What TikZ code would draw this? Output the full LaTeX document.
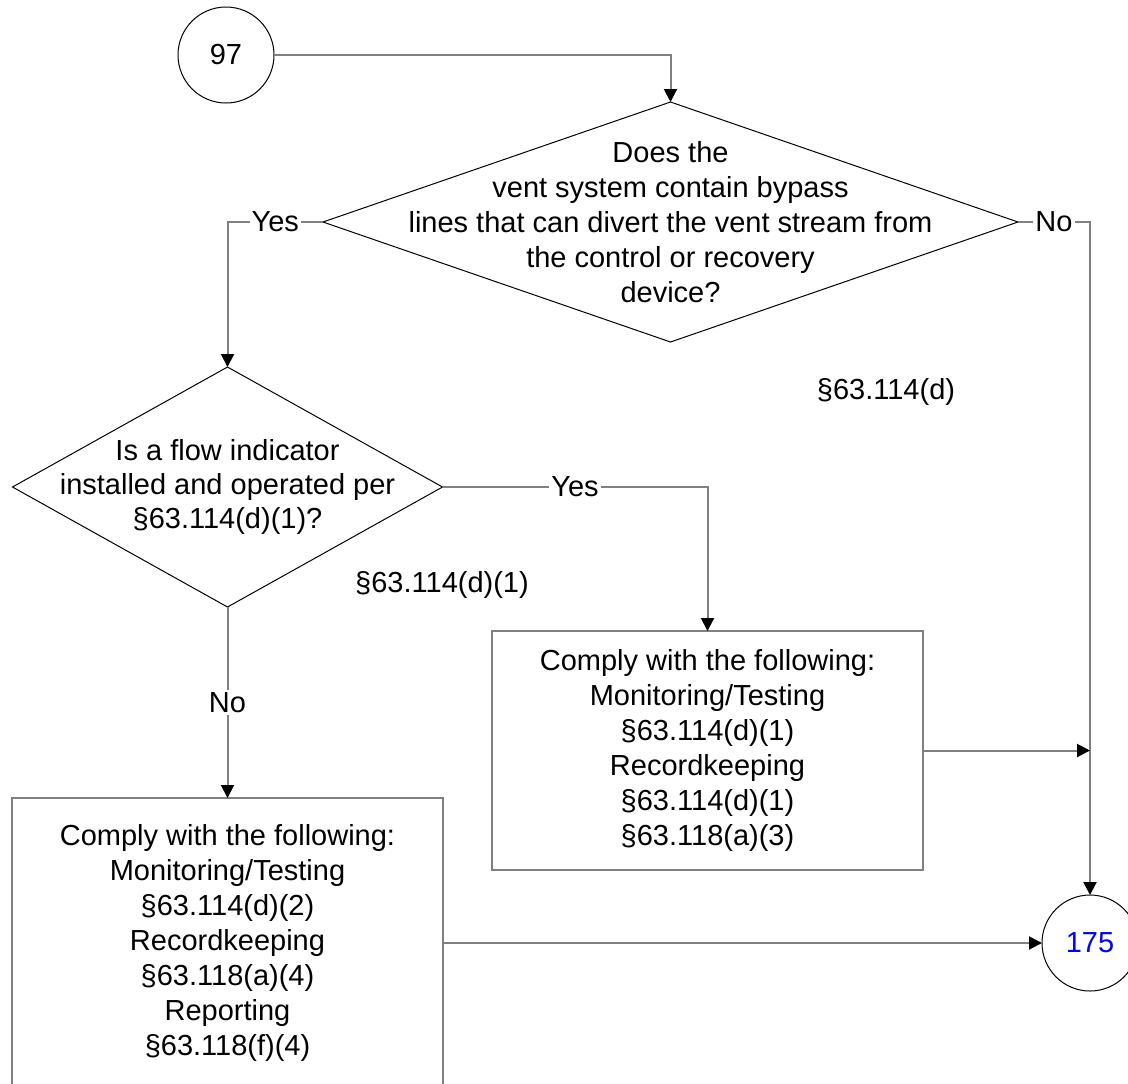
\documentclass[tikz,border=0pt]{standalone}
\usepackage{fontspec}
\setmainfont{Liberation Sans}
\usetikzlibrary{shapes.geometric,arrows.meta}
\definecolor{linegrey}{RGB}{128,128,128}
\definecolor{refblue}{RGB}{0,0,255}
\tikzset{
  conn/.style={draw=linegrey, line width=1pt},
  arr/.style={conn, -{Triangle[length=6.5pt,width=6.5pt,fill=black,color=black]}},
  decision/.style={draw=black, line width=0.5pt, shape=diamond, inner sep=0pt, outer sep=0pt},
  connector/.style={draw=black, line width=0.5pt, circle, inner sep=0pt, outer sep=0pt, minimum size=48pt,
    font=\fontsize{14.5}{17.5}\selectfont},
  actionbox/.style={draw=linegrey, line width=1pt, rectangle, inner sep=0pt, outer sep=0pt, align=center,
    font=\fontsize{14.5}{17.5}\selectfont},
  txt/.style={align=center, inner sep=0pt, font=\fontsize{14.5}{17.5}\selectfont},
  lbl/.style={fill=white, inner sep=1pt, font=\fontsize{14.5}{17.5}\selectfont},
}
\begin{document}
\begin{tikzpicture}[x=0.5pt, y=-0.5pt]
\clip (0,0) rectangle (1128,1083);
\fill[white] (0,0) rectangle (1128,1083);

% nodes
\node[connector] (c97) at (226,55) {97};
\node[decision, minimum width=347.5pt, minimum height=120pt] (d1) at (670.5,222) {};
\node[txt] (d1t) at (d1.center)
  {Does the\\vent system contain bypass\\lines that can divert the vent stream from\\the control or recovery\\device?};
\node[decision, minimum width=215pt, minimum height=120pt] (d2) at (227.5,487) {};
\node[txt, font=\fontsize{14.5}{16.8}\selectfont] (d2t) at (d2.center)
  {Is a flow indicator\\installed and operated per\\\S63.114(d)(1)?};
\node[actionbox, minimum width=215.5pt, minimum height=119.5pt] (b1) at (707.5,750.5)
  {Comply with the following:\\Monitoring/Testing\\\S63.114(d)(1)\\Recordkeeping\\\S63.114(d)(1)\\\S63.118(a)(3)};
\node[actionbox, minimum width=215.5pt, minimum height=145pt] (b2) at (227.5,943)
  {Comply with the following:\\Monitoring/Testing\\\S63.114(d)(2)\\Recordkeeping\\\S63.118(a)(4)\\Reporting\\\S63.118(f)(4)};
\node[connector, text=refblue] (c175) at (1090,943) {175};
\node[txt] (n1) at (886,392) {\S63.114(d)};
\node[txt] (n2) at (442,585) {\S63.114(d)(1)};
\coordinate (j) at (b1.east -| c175.north);

% connectors
\draw[arr] (c97.east) -| (d1.north);
\draw[arr] (d1.west) -- node[lbl]{Yes} (d1.west -| d2.north) -- (d2.north);
\draw[arr] (d1.east) -- node[lbl]{No} (d1.east -| c175.north) -- (c175.north);
\draw[arr] (d2.east) -- node[lbl]{Yes} (d2.east -| b1.north) -- (b1.north);
\draw[arr] (d2.south) -- node[lbl]{No} (b2.north);
\draw[arr] (b1.east) -- (j);
\draw[arr] (b2.east) -- (c175.west);
\end{tikzpicture}
\end{document}
